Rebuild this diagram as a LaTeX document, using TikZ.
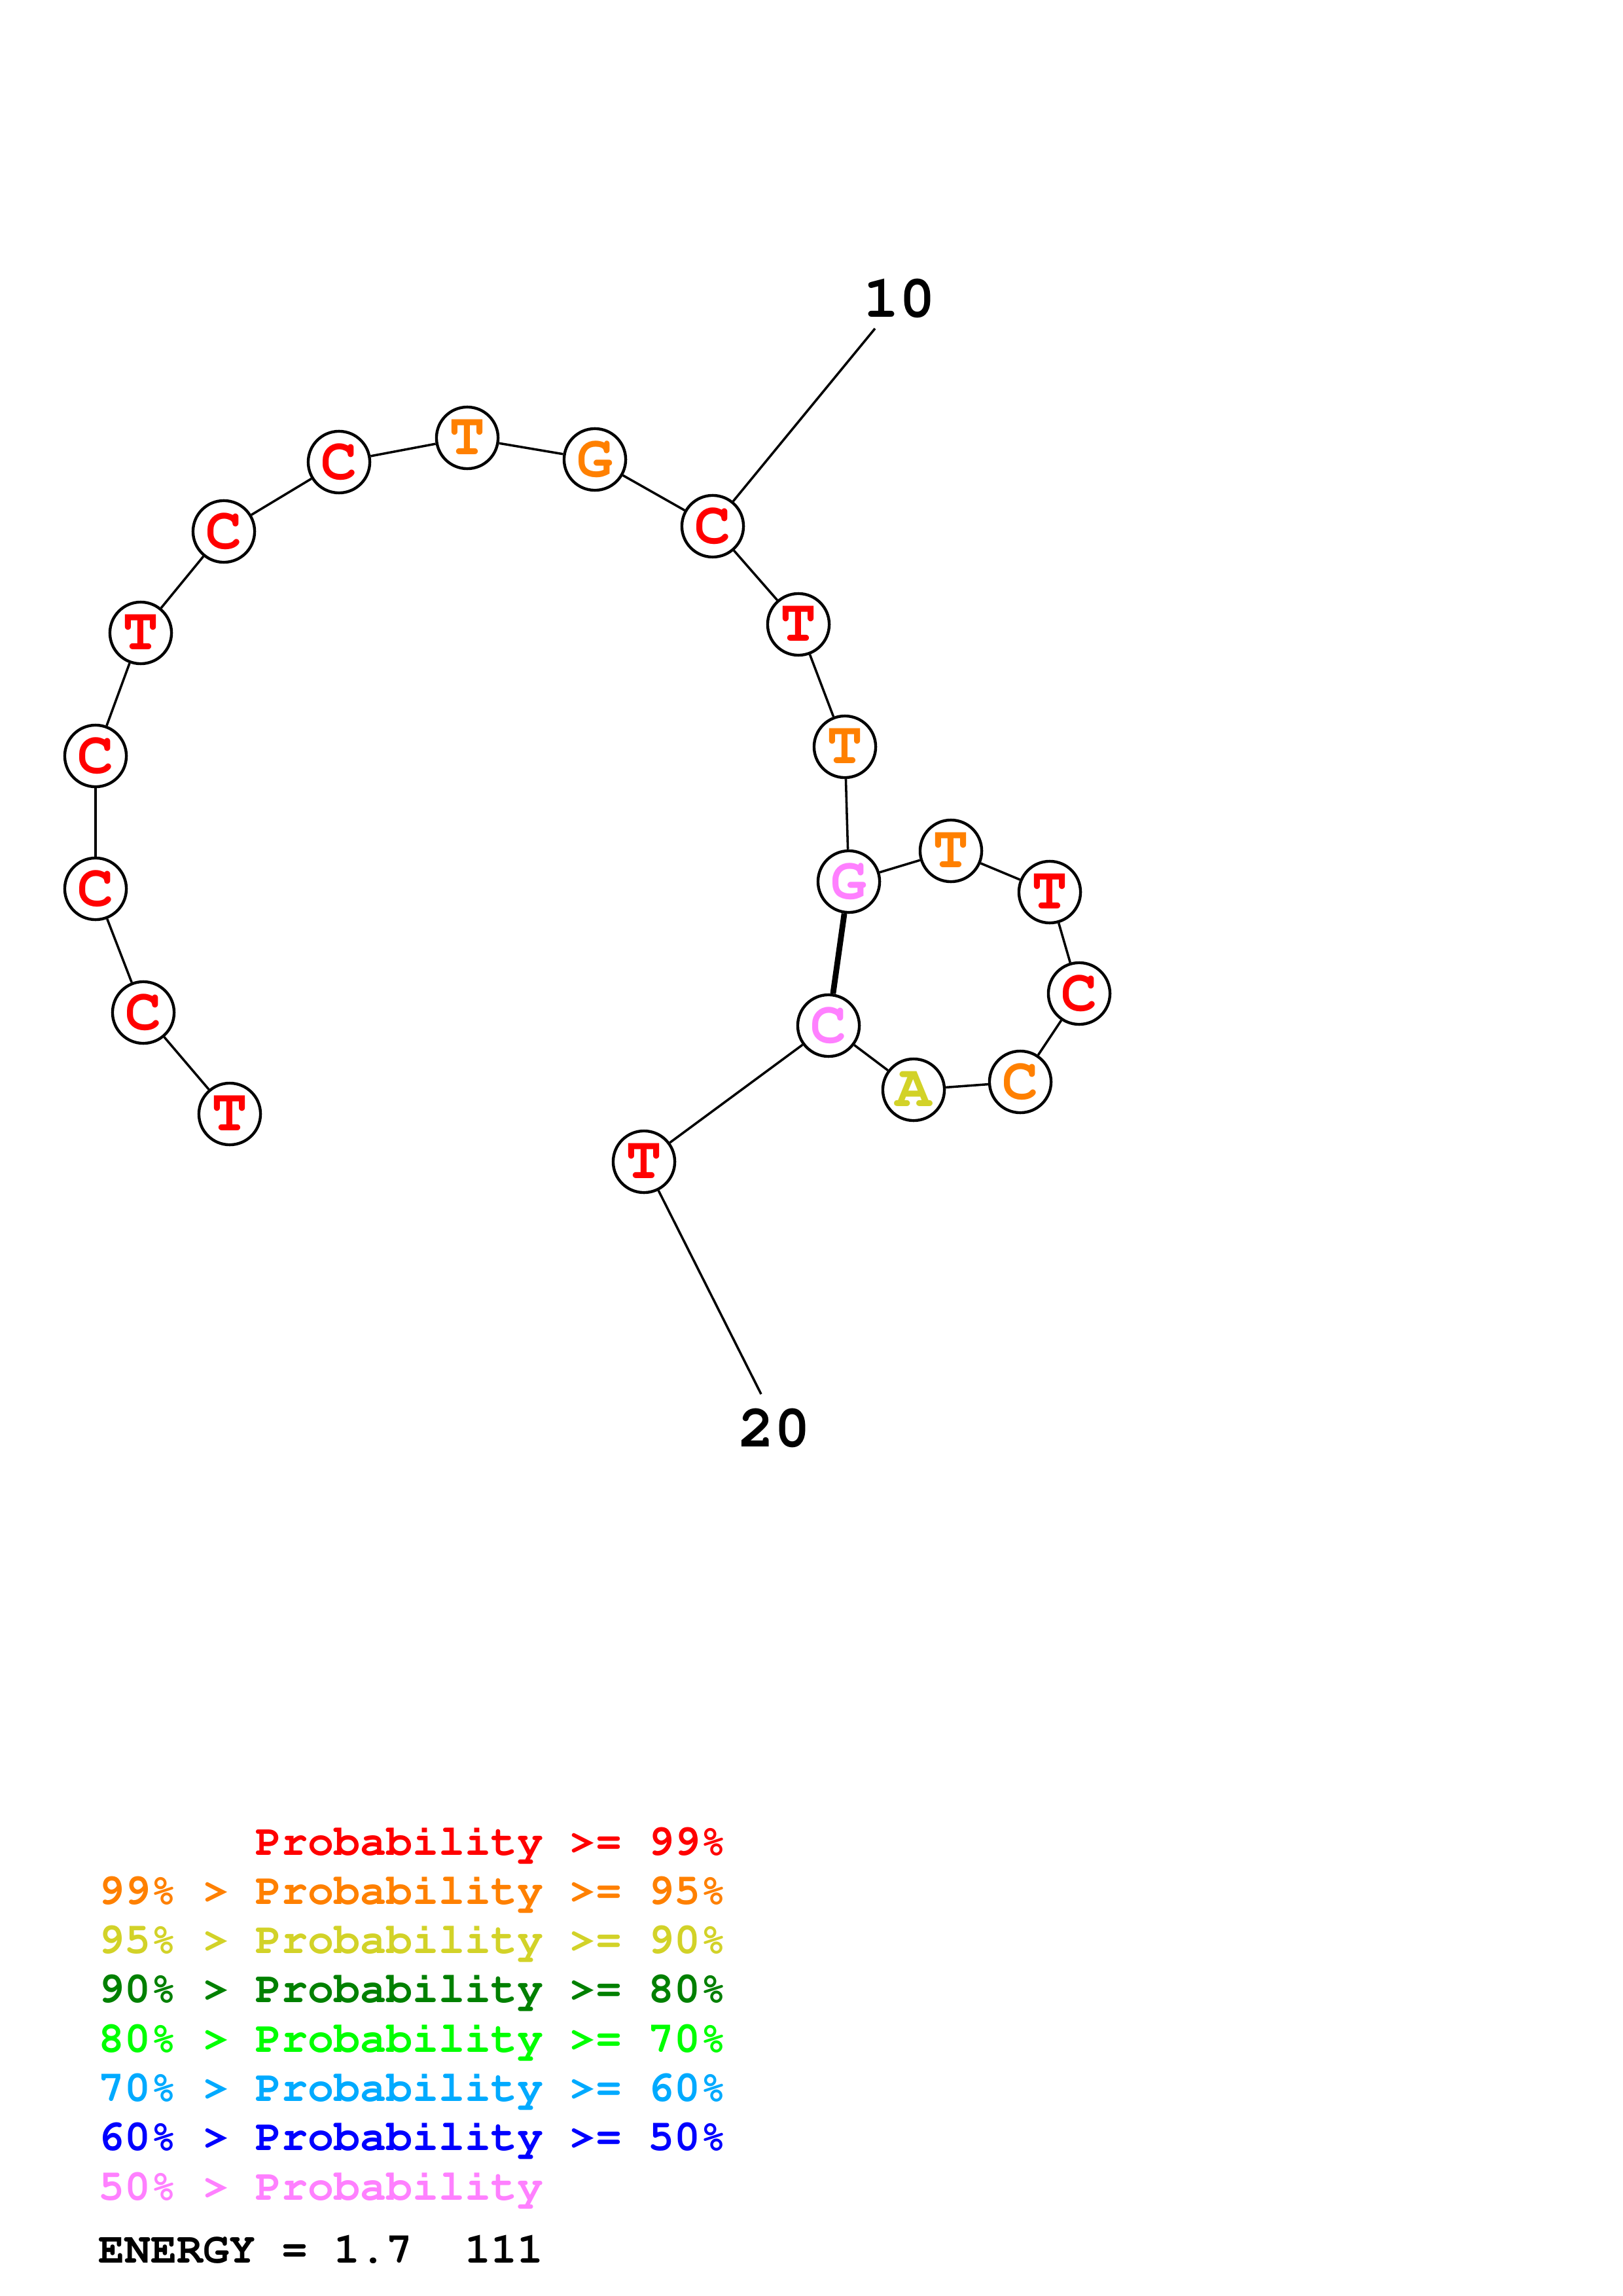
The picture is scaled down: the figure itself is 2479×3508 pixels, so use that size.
\documentclass[tikz,border=0pt]{standalone}
\usepackage[T1]{fontenc}
\usepackage{courier}
\definecolor{pr99}{RGB}{255,0,0}
\definecolor{pr95}{RGB}{255,128,0}
\definecolor{pr90}{RGB}{210,210,40}
\definecolor{pr80}{RGB}{0,128,0}
\definecolor{pr70}{RGB}{0,255,0}
\definecolor{pr60}{RGB}{0,170,255}
\definecolor{pr50}{RGB}{0,0,255}
\definecolor{prlow}{RGB}{255,128,255}

\begin{document}
\begin{tikzpicture}[x=0.24pt,y=-0.24pt,line width=0.85pt,
  base/.style={circle,draw,line width=1.05pt,fill=white,minimum size=22.6pt,inner sep=0pt,
    font=\ttfamily\bfseries\fontsize{22}{22}\selectfont},
  endlab/.style={inner sep=0pt,font=\ttfamily\bfseries\fontsize{22}{22}\selectfont},
  leg/.style={anchor=base west,inner sep=0pt,font=\ttfamily\bfseries\fontsize{16}{16}\selectfont}]
 \useasboundingbox (0,0) rectangle (2479,3508);
 \foreach \n/\x/\y/\lab/\col in {1/351/1702/T/pr99,2/219/1547/C/pr99,3/146/1358/C/pr99,
   4/146/1155/C/pr99,5/215/967/T/pr99,6/342/812/C/pr99,7/518/706/C/pr99,8/714/669/T/pr95,
   9/909/702/G/pr95,10/1089/804/C/pr99,11/1220/954/T/pr99,12/1291/1141/T/pr95,
   13/1297/1347/G/prlow,14/1453/1300/T/pr95,15/1604/1363/T/pr99,16/1649/1518/C/pr99,
   17/1559/1653/C/pr95,18/1396/1665/A/pr90,19/1266/1567/C/prlow,20/984/1775/T/pr99}{%
   \node[base,text=\col] (b\n) at (\x,\y) {\lab};
 }
 \foreach \a/\b in {1/2,2/3,3/4,4/5,5/6,6/7,7/8,8/9,9/10,10/11,11/12,12/13,13/14,14/15,
   15/16,16/17,17/18,18/19,19/20}{%
   \draw (b\a)--(b\b);
 }
 \draw[line width=2.1pt] (b13)--(b19);
 \node[endlab] (lab10) at (1374,457) {10};
 \coordinate (tip10) at (1337,502);
 \draw (b10)--(tip10);
 \node[endlab] (lab20) at (1183,2182) {20};
 \coordinate (tip20) at (1163,2130);
 \draw (b20)--(tip20);
 \foreach \i/\txt/\col in {0/\hphantom{99\% > }Probability >= 99\%/pr99,
   1/99\% > Probability >= 95\%/pr95,2/95\% > Probability >= 90\%/pr90,
   3/90\% > Probability >= 80\%/pr80,4/80\% > Probability >= 70\%/pr70,
   5/70\% > Probability >= 60\%/pr60,6/60\% > Probability >= 50\%/pr50,
   7/50\% > Probability/prlow}{%
   \node[leg,text=\col] (row\i) at (149,2834+75.3*\i) {\txt};
 }
 \node[leg] (energy) at (149,3457) {ENERGY = 1.7~~111};
\end{tikzpicture}
\end{document}
